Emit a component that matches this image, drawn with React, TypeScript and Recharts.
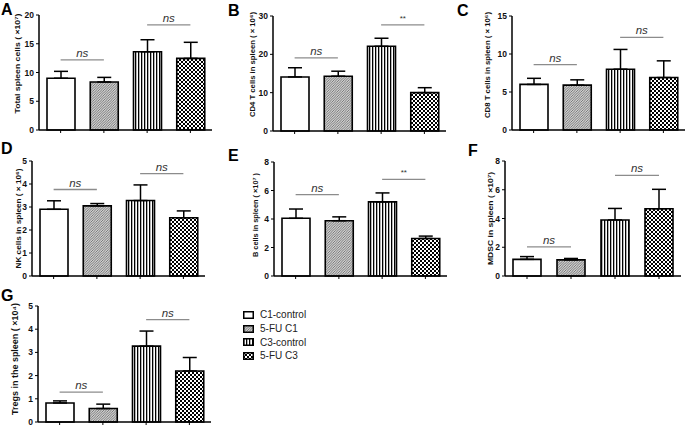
import React from "react";
import { Bar, BarChart, Cell, ErrorBar, ReferenceLine, XAxis, YAxis } from "recharts";

const groups = ["C1-control", "5-FU C1", "C3-control", "5-FU C3"];

// A: total spleen cells (x10^7)
const totalMean = [9.0, 8.35, 13.6, 12.45];
const totalErr = [1.2, 0.8, 2.1, 2.8];
const totalTicks = [0, 5, 10, 15, 20];
const totalSig = [12.2, 18.3];

// B: CD4 T cells (x10^6)
const cd4Mean = [14.1, 14.3, 22.1, 10.0];
const cd4Err = [2.4, 1.3, 2.1, 1.3];
const cd4Ticks = [0, 10, 20, 30];
const cd4Sig = [19.1, 27.7];

// C: CD8 T cells (x10^6)
const cd8Mean = [6.0, 5.9, 8.0, 6.9];
const cd8Err = [0.8, 0.7, 2.6, 2.2];
const cd8Ticks = [0, 5, 10, 15];
const cd8Sig = [8.6, 12.2];

// D: NK cells (x10^6)
const nkMean = [2.9, 3.05, 3.28, 2.53];
const nkErr = [0.37, 0.1, 0.68, 0.3];
const nkTicks = [0, 1, 2, 3, 4, 5];
const nkSig = [3.76, 4.45];

// E: B cells (x10^7)
const bMean = [4.05, 3.88, 5.2, 2.63];
const bErr = [0.65, 0.27, 0.63, 0.17];
const bTicks = [0, 2, 4, 6, 8];
const bSig = [5.71, 6.78];

// F: MDSC (x10^7)
const mdscMean = [1.16, 1.12, 3.9, 4.68];
const mdscErr = [0.19, 0.1, 0.8, 1.35];
const mdscTicks = [0, 2, 4, 6, 8];
const mdscSig = [2.03, 7.0];

// G: Tregs (x10^4)
const tregMean = [0.82, 0.58, 3.27, 2.2];
const tregErr = [0.09, 0.19, 0.65, 0.58];
const tregTicks = [0, 1, 2, 3, 4, 5];
const tregSig = [1.29, 4.41];

const fills = ["#fff", "url(#pat-hatch)", "url(#pat-vert)", "url(#pat-check)"];
const FONT = "Arial, 'Liberation Sans', Helvetica, sans-serif";

const build = (mean: number[], err: number[]) =>
  groups.map((g, i) => ({ group: g, mean: mean[i], err: [0, err[i]] }));

interface PanelProps {
  letter: string;
  letterX: number;
  letterY: number;
  axisX: number;
  yTop: number;
  yBot: number;
  plotW?: number;
  mean: number[];
  err: number[];
  ticks: number[];
  sig: number[];
  marks: string[];
  label: string;
  labelDist: number;
  labelDy: number;
  labelLen: number;
  labelSize?: number;
}

const Y_W = 30;
const M_TOP = 10;
const X_H = 10;

const Panel = ({
  letter,
  letterX,
  letterY,
  axisX,
  yTop,
  yBot,
  plotW = 173,
  mean,
  err,
  ticks,
  sig,
  marks,
  label,
  labelDist,
  labelDy,
  labelLen,
  labelSize = 7.5,
}: PanelProps) => {
  const data = build(mean, err);
  const plotH = yBot - yTop;
  const width = Y_W + plotW + 4;
  const height = M_TOP + plotH + X_H;

  const renderLabel = (props: any) => {
    const vb = props.viewBox || {};
    const x = vb.x + vb.width - labelDist;
    const y = vb.y + vb.height / 2 + labelDy;
    return (
      <text
        x={x}
        y={y}
        transform={`rotate(-90, ${x}, ${y})`}
        textAnchor="middle"
        dominantBaseline="central"
        fontSize={labelSize}
        fontWeight="bold"
        fontFamily={FONT}
        fill="#111"
        textLength={labelLen}
        lengthAdjust="spacingAndGlyphs"
      >
        {label}
      </text>
    );
  };

  return (
    <>
      <div
        style={{
          position: "absolute",
          left: letterX,
          top: letterY,
          fontSize: 16,
          fontWeight: "bold",
          lineHeight: "16px",
          fontFamily: FONT,
        }}
      >
        {letter}
      </div>
      <div style={{ position: "absolute", left: axisX - Y_W, top: yTop - M_TOP }}>
        <BarChart
          width={width}
          height={height}
          data={data}
          margin={{ top: M_TOP, right: 4, left: 0, bottom: 0 }}
          barSize={28}
        >
          <XAxis
            dataKey="group"
            height={X_H}
            tickFormatter={() => ""}
            tickSize={3}
            axisLine={{ stroke: "#000", strokeWidth: 1.5 }}
            tickLine={{ stroke: "#000", strokeWidth: 1 }}
          />
          <YAxis
            width={Y_W}
            domain={[0, ticks[ticks.length - 1]]}
            ticks={ticks}
            interval={0}
            tickSize={3}
            axisLine={{ stroke: "#000", strokeWidth: 1.5 }}
            tickLine={{ stroke: "#000", strokeWidth: 1 }}
            tick={{ fontSize: 8.5, fontWeight: "bold", fill: "#111", fontFamily: FONT }}
            label={renderLabel}
          />
          <Bar dataKey="mean" stroke="#000" strokeWidth={1.6} isAnimationActive={false}>
            {data.map((d, i) => (
              <Cell key={d.group} fill={fills[i]} />
            ))}
            <ErrorBar dataKey="err" direction="y" width={7} stroke="#000" strokeWidth={1.5} />
          </Bar>
          {sig.map((y, i) => (
            <ReferenceLine
              key={i}
              segment={[
                { x: groups[i * 2], y },
                { x: groups[i * 2 + 1], y },
              ]}
              stroke="#8c8c8c"
              strokeWidth={1.3}
              ifOverflow="visible"
              label={{
                value: marks[i],
                position: "top",
                offset: marks[i] === "ns" ? 3 : 4,
                style: {
                  fontSize: marks[i] === "ns" ? 11.5 : 8,
                  fontStyle: marks[i] === "ns" ? "italic" : "normal",
                  fill: "#333",
                  fontFamily: FONT,
                },
              }}
            />
          ))}
        </BarChart>
      </div>
    </>
  );
};

const Legend = () => (
  <div style={{ position: "absolute", left: 243, top: 308, fontFamily: FONT, fontSize: 10 }}>
    {groups.map((g, i) => (
      <div key={g} style={{ display: "flex", alignItems: "center", height: 13.7 }}>
        <svg width={11} height={8} style={{ marginRight: 6 }}>
          <rect x={0.75} y={0.75} width={9.5} height={6.5} fill={fills[i]} stroke="#000" strokeWidth={1.5} />
        </svg>
        <span style={{ color: "#222" }}>{g}</span>
      </div>
    ))}
  </div>
);

export default function App() {
  return (
    <div
      style={{
        position: "absolute",
        left: 0,
        top: 0,
        width: 685,
        height: 427,
        overflow: "hidden",
        background: "#fff",
      }}
    >
      <svg width={0} height={0} style={{ position: "absolute" }}>
        <defs>
          <pattern id="pat-hatch" patternUnits="userSpaceOnUse" width={2.5} height={2.5}>
            <rect width={2.5} height={2.5} fill="#d0d0d0" />
            <path d="M-1,1 L1,-1 M0,2.5 L2.5,0 M1.5,3.5 L3.5,1.5" stroke="#555" strokeWidth={0.7} />
          </pattern>
          <pattern id="pat-vert" patternUnits="userSpaceOnUse" width={3} height={3}>
            <rect width={3} height={3} fill="#fff" />
            <rect width={1.3} height={3} fill="#000" />
          </pattern>
          <pattern id="pat-check" patternUnits="userSpaceOnUse" width={4} height={4}>
            <rect width={4} height={4} fill="#fff" />
            <rect width={2} height={2} fill="#000" />
            <rect x={2} y={2} width={2} height={2} fill="#000" />
          </pattern>
        </defs>
      </svg>

      <Panel
        letter="A" letterX={1} letterY={2}
        axisX={39} yTop={15} yBot={130}
        mean={totalMean} err={totalErr} ticks={totalTicks} sig={totalSig} marks={["ns", "ns"]}
        label="Total spleen cells ( ×10⁷)" labelDist={22} labelDy={-9} labelLen={100}
      />
      <Panel
        letter="B" letterX={228} letterY={3}
        axisX={273} yTop={16} yBot={131}
        mean={cd4Mean} err={cd4Err} ticks={cd4Ticks} sig={cd4Sig} marks={["ns", "**"]}
        label="CD4 T cells in spleen ( × 10⁶)" labelDist={21} labelDy={-9} labelLen={105}
      />
      <Panel
        letter="C" letterX={457} letterY={3}
        axisX={512} yTop={16} yBot={130}
        mean={cd8Mean} err={cd8Err} ticks={cd8Ticks} sig={cd8Sig} marks={["ns", "ns"]}
        label="CD8 T cells in spleen ( × 10⁶)" labelDist={25} labelDy={-8} labelLen={106}
      />
      <Panel
        letter="D" letterX={1} letterY={141}
        axisX={32} yTop={161} yBot={276}
        mean={nkMean} err={nkErr} ticks={nkTicks} sig={nkSig} marks={["ns", "ns"]}
        label="NK cells in spleen ( × 10⁶)" labelDist={14} labelDy={0} labelLen={100}
      />
      <Panel
        letter="E" letterX={228} letterY={148}
        axisX={274} yTop={162} yBot={276}
        mean={bMean} err={bErr} ticks={bTicks} sig={bSig} marks={["ns", "**"]}
        label="B cells in spleen ( ×10⁷ )" labelDist={19} labelDy={-4} labelLen={84}
      />
      <Panel
        letter="F" letterX={468} letterY={143}
        axisX={505} yTop={161} yBot={276} plotW={176}
        mean={mdscMean} err={mdscErr} ticks={mdscTicks} sig={mdscSig} marks={["ns", "ns"]}
        label="MDSC in spleen ( ×10⁷)" labelDist={15} labelDy={0} labelLen={93}
      />
      <Panel
        letter="G" letterX={1} letterY={288}
        axisX={38} yTop={306} yBot={422}
        mean={tregMean} err={tregErr} ticks={tregTicks} sig={tregSig} marks={["ns", "ns"]}
        label="Tregs in the spleen ( ×10⁴)" labelDist={23} labelDy={-5} labelLen={112} labelSize={8.5}
      />

      <Legend />
    </div>
  );
}
